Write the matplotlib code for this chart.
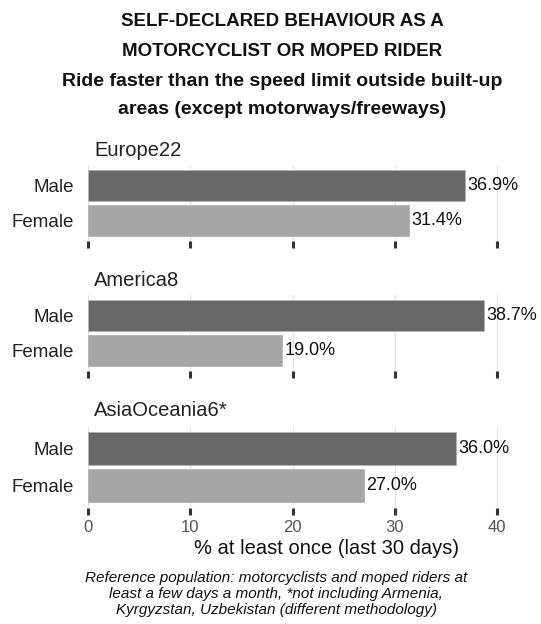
import matplotlib.pyplot as plt

plt.rcParams['font.family'] = ['Liberation Sans', 'DejaVu Sans']

regions = ['Europe22', 'America8', 'AsiaOceania6*']
genders = ['Female', 'Male']
male = [36.9, 38.7, 36.0]
female = [31.4, 19.0, 27.0]
x_ticks = [0, 10, 20, 30, 40]

title_lines = ['SELF-DECLARED BEHAVIOUR AS A',
               'MOTORCYCLIST OR MOPED RIDER',
               'Ride faster than the speed limit outside built-up',
               'areas (except motorways/freeways)']
caption_lines = ['Reference population: motorcyclists and moped riders at',
                 'least a few days a month, *not including Armenia,',
                 'Kyrgyzstan, Uzbekistan (different methodology)']
xlabel = '% at least once (last 30 days)'

W, H = 541, 624
fig = plt.figure(figsize=(W / 100, H / 100), dpi=100)

# panel (top, bottom) in pixels
panels = [(165, 241), (295, 371), (426, 508)]
left, right = 88, 517.6
colors = {'Male': '#686868', 'Female': '#a6a6a6'}

for i, (top, bottom) in enumerate(panels):
    ax = fig.add_axes([left / W, 1 - bottom / H, (right - left) / W, (bottom - top) / H])
    vals = {'Male': male[i], 'Female': female[i]}
    for j, g in enumerate(genders):
        ax.barh(j, vals[g], height=0.9, color=colors[g], edgecolor='#b4b4b4',
                linewidth=0.6, zorder=2)
        ax.text(vals[g] + 0.2, j, f'{vals[g]:.1f}%', va='center', ha='left',
                fontsize=13, color='#111111')
    ax.set_xlim(0, 42)
    ax.set_ylim(-0.6, 1.6)
    ax.set_yticks(range(len(genders)))
    ax.set_yticklabels(genders, fontsize=13.5, color='#222222')
    ax.set_xticks(x_ticks)
    ax.grid(axis='x', color='#e6e6e6', linewidth=0.9, zorder=0)
    ax.tick_params(axis='y', length=0, pad=10)
    ax.tick_params(axis='x', length=5, width=2.2, color='#333333', pad=4,
                   labelsize=12, labelcolor='#555555')
    if i < len(panels) - 1:
        ax.set_xticklabels([])
    for s in ax.spines.values():
        s.set_visible(False)
    fig.text(94 / W, 1 - (top - 15) / H, regions[i], ha='left', va='center',
             fontsize=14.5, color='#222222')

title_sizes = [13.5, 13.5, 14, 14]
for y, line, fs in zip([21, 51, 81, 110], title_lines, title_sizes):
    fig.text(282 / W, 1 - y / H, line, ha='center', va='center',
             fontsize=fs, fontweight='bold', color='#111111')

fig.text(326 / W, 1 - 549 / H, xlabel, ha='center', va='center',
         fontsize=14.5, color='#111111')

for y, line in zip([578, 594, 610], caption_lines):
    fig.text(276 / W, 1 - y / H, line, ha='center', va='center',
             fontsize=11, style='italic', color='#111111')

fig.savefig('out.png', dpi=100)
